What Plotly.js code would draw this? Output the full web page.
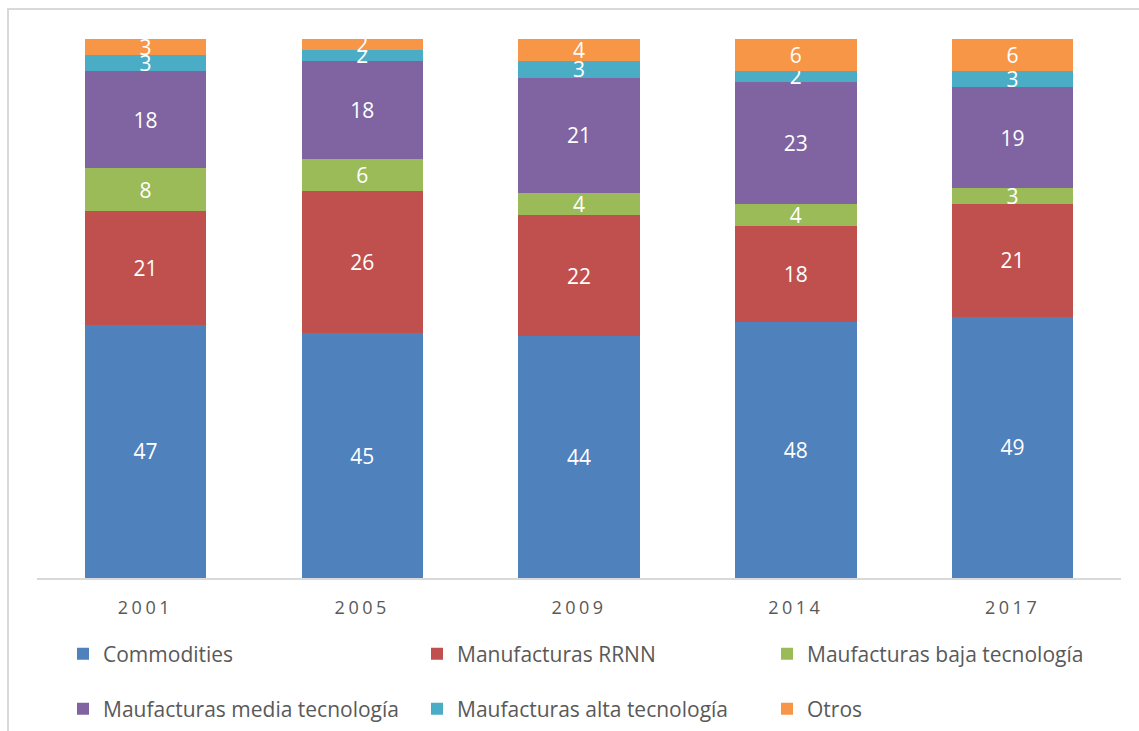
<!DOCTYPE html>
<html>
<head>
<meta charset="utf-8">
<script src="https://cdn.plot.ly/plotly-3.0.1.min.js"></script>
<style>
html,body{margin:0;padding:0;background:#fff;}
#chart{width:1139px;height:731px;}
.xtick text{letter-spacing:3.5px;}
</style>
</head>
<body>
<div id="chart"></div>
<script>
const years = ["2001", "2005", "2009", "2014", "2017"];
const seriesNames = ["Commodities", "Manufacturas RRNN", "Maufacturas baja tecnología", "Maufacturas media tecnología", "Maufacturas alta tecnología", "Otros"];
const commodities = [47, 45, 44, 48, 49];
const manufRRNN = [21, 26, 22, 18, 21];
const bajaTec = [8, 6, 4, 4, 3];
const mediaTec = [18, 18, 21, 23, 19];
const altaTec = [3, 2, 3, 2, 3];
const otros = [3, 2, 4, 6, 6];
const colors = ["#4F81BD", "#C0504D", "#9BBB59", "#8064A2", "#4BACC6", "#F79646"];

const allSeries = [commodities, manufRRNN, bajaTec, mediaTec, altaTec, otros];
const legendIds = ["legend", "legend2", "legend3", "legend4", "legend5", "legend6"];

const traces = allSeries.map((vals, i) => ({
  type: "bar",
  name: seriesNames[i],
  x: years,
  y: vals,
  text: vals.map(String),
  texttemplate: "%{text}",
  textposition: "inside",
  insidetextanchor: "middle",
  textangle: 0,
  constraintext: "none",
  textfont: {family: "Open Sans, sans-serif", size: 21, color: "#ffffff"},
  marker: {color: colors[i], line: {width: 0}},
  legend: legendIds[i],
  hoverinfo: "skip"
}));

const legendFont = {family: "Open Sans, sans-serif", size: 21, color: "#595959"};
const legPos = [[83, 654], [437, 654], [787, 654], [83, 709], [437, 709], [787, 709]];
const layout = {
  width: 1139, height: 731,
  margin: {l: 37, r: 18, t: 39, b: 153},
  paper_bgcolor: "#ffffff", plot_bgcolor: "#ffffff",
  barmode: "stack",
  barnorm: "percent",
  bargap: 0.44,
  showlegend: true,
  xaxis: {
    type: "category",
    showgrid: false, zeroline: false,
    showline: true, linecolor: "#d9d9d9", linewidth: 1.5,
    ticks: "",
    ticklabelstandoff: 13,
    tickfont: {family: "Open Sans, sans-serif", size: 18, color: "#595959"}
  },
  yaxis: {range: [0, 100], visible: false, showgrid: false, zeroline: false},
  shapes: [{
    type: "rect", xref: "paper", yref: "paper",
    x0: (8 - 37) / 1084, x1: 1.2, y0: -1, y1: 1 + (39 - 9) / 539,
    line: {color: "#d9d9d9", width: 2}, fillcolor: "rgba(0,0,0,0)", layer: "below"
  }]
};
legendIds.forEach((id, i) => {
  layout[id] = {
    xref: "container", yref: "container",
    x: (legPos[i][0] - 20) / 1139, y: 1 - legPos[i][1] / 731,
    xanchor: "left", yanchor: "middle",
    orientation: "h",
    font: legendFont,
    bgcolor: "rgba(0,0,0,0)",
    itemclick: false, itemdoubleclick: false
  };
});

Plotly.newPlot("chart", traces, layout, {displayModeBar: false, staticPlot: true});
</script>
</body>
</html>
